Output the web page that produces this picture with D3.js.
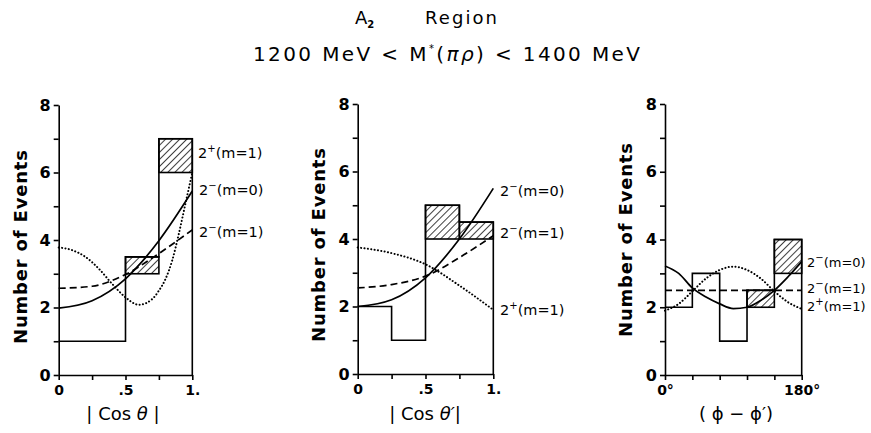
<!DOCTYPE html>
<html>
<head>
<meta charset="utf-8">
<script src="https://cdn.jsdelivr.net/npm/d3@7"></script>
<style>
  body { margin: 0; background: #fff; }
  svg { display: block; font-family: "DejaVu Sans", sans-serif; }
</style>
</head>
<body>
<svg id="chart" width="871" height="433"></svg>
<script>
// ---- data ----
const cosBins = [0, 0.25, 0.5, 0.75, 1];
const phiBins = [0, 36, 72, 108, 144, 180];

// |cos theta|
const thetaPlain = [1, 1, 3, 6];
const thetaTotal = [1, 1, 3.5, 7];
const thetaM0 = [[0, 1.98], [0.25, 2.2], [0.5, 2.85], [0.75, 3.98], [1, 5.45]];
const thetaM1 = [[0, 2.57], [0.25, 2.63], [0.5, 2.98], [0.75, 3.6], [1, 4.3]];
const thetaPlus = [[0, 3.78], [0.1, 3.7], [0.2, 3.5], [0.3, 3.15], [0.4, 2.7], [0.5, 2.3], [0.6, 2.08],
  [0.7, 2.25], [0.75, 2.5], [0.8, 2.85], [0.85, 3.4], [0.9, 4.2], [0.95, 5.1], [1, 6.0]];

// |cos theta'|
const thetaPPlain = [2, 1, 4, 4];
const thetaPTotal = [2, 1, 5, 4.5];
const thetaPM0 = [[0, 2.0], [0.25, 2.2], [0.5, 2.85], [0.75, 4.0], [1, 5.5]];
const thetaPM1 = [[0, 2.55], [0.25, 2.65], [0.5, 2.9], [0.75, 3.45], [1, 4.1]];
const thetaPPlus = [[0, 3.75], [0.25, 3.58], [0.5, 3.25], [0.75, 2.62], [1, 1.9]];

// (phi - phi')
const phiPlain = [2, 3, 1, 2, 3];
const phiTotal = [2, 3, 1, 2.5, 4];
const phiM0 = [[0, 3.22], [18, 3.0], [36, 2.57], [54, 2.3], [72, 2.1], [90, 1.96], [108, 2.0],
  [126, 2.2], [144, 2.5], [162, 2.9], [180, 3.35]];
const phiM1 = [[0, 2.5], [180, 2.5]];
const phiPlus = [[0, 1.9], [18, 2.1], [36, 2.47], [54, 2.85], [72, 3.1], [90, 3.2], [108, 3.1],
  [126, 2.85], [144, 2.47], [162, 2.15], [180, 1.95]];

const yTicks = [0, 1, 2, 3, 4, 5, 6, 7, 8];
const cosTickLabels = ['0', '', '.5', '', '1.'];
const phiTickLabels = ['0°', '', '', '', '', '180°'];

const svg = d3.select('#chart');

// hatch fill
svg.append('defs')
  .append('pattern')
  .attr('id', 'hatch')
  .attr('patternUnits', 'userSpaceOnUse')
  .attr('width', 5).attr('height', 5)
  .attr('patternTransform', 'rotate(45)')
  .append('line')
  .attr('x1', 0).attr('y1', 0).attr('x2', 0).attr('y2', 5)
  .attr('stroke', '#000').attr('stroke-width', 1.5);

// title
const t1 = svg.append('text').attr('x', 355).attr('y', 24).attr('font-size', 18);
t1.append('tspan').text('A');
t1.append('tspan').attr('font-size', 10).attr('font-weight', 'bold').attr('dy', 4).text('2');
svg.append('text').attr('x', 425).attr('y', 24).attr('font-size', 18)
  .attr('textLength', 72).attr('lengthAdjust', 'spacing').text('Region');

const t2 = svg.append('text').attr('x', 253).attr('y', 61).attr('font-size', 20)
  .attr('textLength', 387).attr('lengthAdjust', 'spacing');
t2.append('tspan').text('1200 MeV < M');
t2.append('tspan').attr('font-size', 10).attr('dy', -9).text('*');
t2.append('tspan').attr('dy', 9).text('(');
t2.append('tspan').attr('font-style', 'italic').text('πρ');
t2.append('tspan').text(') < 1400 MeV');

function curveLabel(x, y, sign, m, size) {
  const t = svg.append('text').attr('x', x).attr('y', y).attr('font-size', size);
  t.append('tspan').text('2');
  t.append('tspan').attr('font-size', 10).attr('dy', -6).text(sign);
  t.append('tspan').attr('dy', 6).text(`(m=${m})`);
}

function drawPanel(p) {
  const x = d3.scaleLinear().domain(p.domain).range(p.xRange);
  const y = d3.scaleLinear().domain([0, 8]).range(p.yRange);
  const g = svg.append('g');

  // hatched excess
  p.bins.slice(0, -1).forEach((b, i) => {
    if (p.total[i] > p.plain[i]) {
      g.append('rect')
        .attr('x', x(b)).attr('y', y(p.total[i]))
        .attr('width', x(p.bins[i + 1]) - x(b))
        .attr('height', y(p.plain[i]) - y(p.total[i]))
        .attr('fill', 'url(#hatch)')
        .attr('stroke', '#000').attr('stroke-width', 1.6);
    }
  });

  // histogram outline
  let d = `M${x(p.bins[0])},${y(p.total[0])}`;
  p.total.forEach((v, i) => {
    d += `V${y(v)}H${x(p.bins[i + 1])}`;
  });
  d += `V${y(0)}`;
  g.append('path').attr('d', d).attr('fill', 'none')
    .attr('stroke', '#000').attr('stroke-width', 1.6);

  // curves
  const line = d3.line().x(d => x(d[0])).y(d => y(d[1])).curve(d3.curveMonotoneX);
  g.append('path').datum(p.m0).attr('d', line).attr('fill', 'none')
    .attr('stroke', '#000').attr('stroke-width', 1.7);
  g.append('path').datum(p.m1).attr('d', line).attr('fill', 'none')
    .attr('stroke', '#000').attr('stroke-width', 1.7).attr('stroke-dasharray', '7,4');
  g.append('path').datum(p.plus).attr('d', line).attr('fill', 'none')
    .attr('stroke', '#000').attr('stroke-width', 2)
    .attr('stroke-linecap', 'round').attr('stroke-dasharray', '0.1,3.3');

  // axes
  const yAxis = g.append('g')
    .attr('transform', `translate(${p.xRange[0]},0)`)
    .call(d3.axisLeft(y).tickValues(yTicks).tickSize(5).tickSizeOuter(0)
      .tickFormat(v => v % 2 === 0 ? v : ''));
  yAxis.selectAll('text').attr('font-size', 16).attr('font-weight', 'bold')
    .attr('font-family', '"DejaVu Sans", sans-serif').attr('fill', '#000');

  const xAxis = g.append('g')
    .attr('transform', `translate(0,${p.yRange[0]})`)
    .call(d3.axisBottom(x).tickValues(p.bins).tickSize(5).tickSizeOuter(0).tickPadding(5)
      .tickFormat((v, i) => p.tickLabels[i]));
  xAxis.selectAll('text').attr('font-size', 14).attr('font-weight', 'bold')
    .attr('font-family', '"DejaVu Sans", sans-serif').attr('fill', '#000');

  g.selectAll('.domain, .tick line').attr('stroke', '#000').attr('stroke-width', 1.6);

  // axis titles
  svg.append('text')
    .attr('transform', `translate(${p.yLabel[0]},${p.yLabel[1]}) rotate(-90)`)
    .attr('text-anchor', 'middle').attr('dominant-baseline', 'central')
    .attr('font-size', 18).attr('font-weight', 'bold')
    .attr('textLength', 194).attr('lengthAdjust', 'spacing')
    .text('Number of Events');

  const xt = svg.append('text').attr('x', p.xLabel[0]).attr('y', p.xLabel[1])
    .attr('text-anchor', 'middle').attr('font-size', 18);
  p.xTitle(xt);

  p.labels.forEach(l => curveLabel(l[0], l[1], l[2], l[3], p.labelSize));
}

drawPanel({
  domain: [0, 1], xRange: [58.7, 192.3], yRange: [375, 105],
  bins: cosBins, plain: thetaPlain, total: thetaTotal,
  m0: thetaM0, m1: thetaM1, plus: thetaPlus,
  tickLabels: cosTickLabels,
  yLabel: [20, 247], xLabel: [123, 420],
  xTitle: t => {
    t.append('tspan').text('| Cos ');
    t.append('tspan').attr('font-style', 'italic').text('θ');
    t.append('tspan').text(' |');
  },
  labelSize: 14.5,
  labels: [[198, 158, '+', 1], [199, 195, '−', 0], [199, 237, '−', 1]]
});

drawPanel({
  domain: [0, 1], xRange: [357.7, 493.3], yRange: [374, 104],
  bins: cosBins, plain: thetaPPlain, total: thetaPTotal,
  m0: thetaPM0, m1: thetaPM1, plus: thetaPPlus,
  tickLabels: cosTickLabels,
  yLabel: [318, 245], xLabel: [425, 420],
  xTitle: t => {
    t.append('tspan').text('| Cos ');
    t.append('tspan').attr('font-style', 'italic').text('θ′');
    t.append('tspan').text('|');
  },
  labelSize: 14.5,
  labels: [[500, 196, '−', 0], [500, 238, '−', 1], [500, 315, '+', 1]]
});

drawPanel({
  domain: [0, 180], xRange: [665, 801.7], yRange: [375, 104],
  bins: phiBins, plain: phiPlain, total: phiTotal,
  m0: phiM0, m1: phiM1, plus: phiPlus,
  tickLabels: phiTickLabels,
  yLabel: [625, 240], xLabel: [736, 420],
  xTitle: t => {
    t.append('tspan').text('( ϕ − ϕ′)');
  },
  labelSize: 13,
  labels: [[807, 267, '−', 0], [807, 293, '−', 1], [807, 311, '+', 1]]
});
</script>
</body>
</html>
